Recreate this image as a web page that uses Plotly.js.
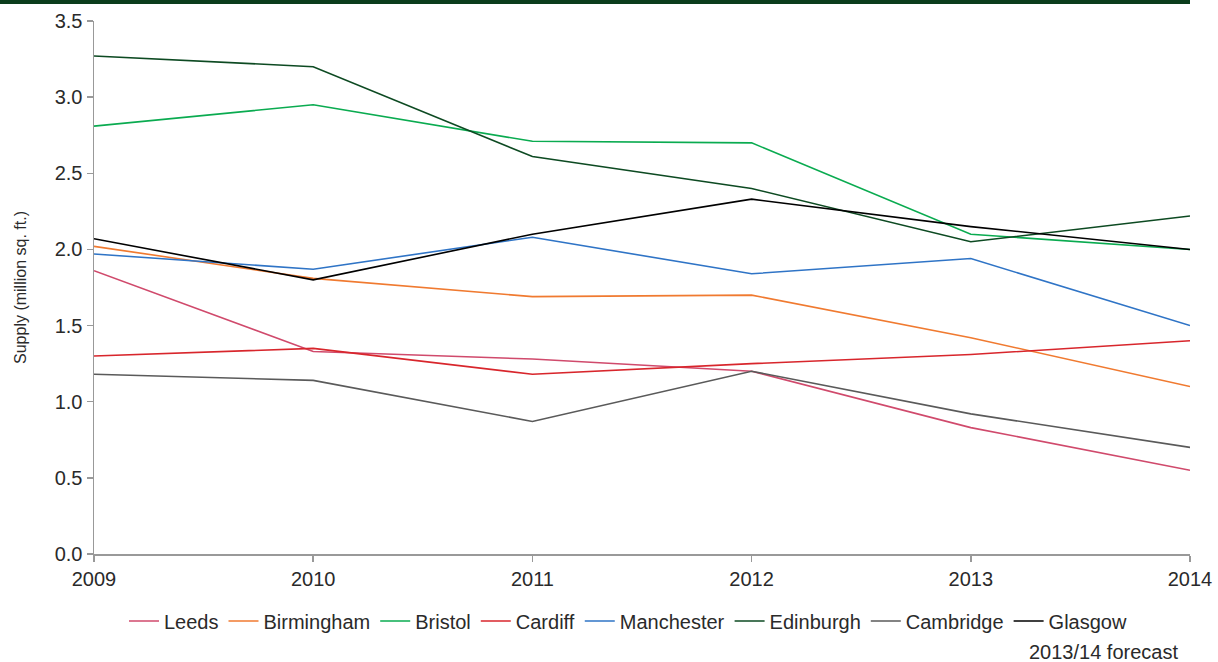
<!DOCTYPE html>
<html>
<head>
<meta charset="utf-8">
<script src="https://cdn.plot.ly/plotly-3.0.1.min.js"></script>
<style>
html,body{margin:0;padding:0;background:#fff;}
#chart{width:1218px;height:662px;}
</style>
</head>
<body>
<div id="chart"></div>
<script>
const years = [2009, 2010, 2011, 2012, 2013, 2014];
const leeds      = [1.86, 1.33, 1.28, 1.20, 0.83, 0.55];
const birmingham = [2.02, 1.81, 1.69, 1.70, 1.42, 1.10];
const bristol    = [2.81, 2.95, 2.71, 2.70, 2.10, 2.00];
const cardiff    = [1.30, 1.35, 1.18, 1.25, 1.31, 1.40];
const manchester = [1.97, 1.87, 2.08, 1.84, 1.94, 1.50];
const edinburgh  = [3.27, 3.20, 2.61, 2.40, 2.05, 2.22];
const cambridge  = [1.18, 1.14, 0.87, 1.20, 0.92, 0.70];
const glasgow    = [2.07, 1.80, 2.10, 2.33, 2.15, 2.00];
const seriesNames = ["Leeds","Birmingham","Bristol","Cardiff","Manchester","Edinburgh","Cambridge","Glasgow"];
const seriesValues = [leeds, birmingham, bristol, cardiff, manchester, edinburgh, cambridge, glasgow];
const colors = ["#d04a6c","#f07a30","#0aab50","#d8262c","#2f74c6","#0d4a22","#5a5a5a","#000000"];
const yTicks = [0,0.5,1,1.5,2,2.5,3,3.5];
const yTickText = ["0.0","0.5","1.0","1.5","2.0","2.5","3.0","3.5"];

const traces = seriesNames.map((n,i)=>({
  x: years, y: seriesValues[i], name: n, type:'scatter', mode:'lines',
  line:{color:colors[i], width:1.6}
}));

const font = {family:'"Liberation Sans", Arial, sans-serif', color:'#2a2a2a'};
const layout = {
  width:1218, height:662,
  margin:{l:94, r:28, t:21, b:108, autoexpand:false},
  paper_bgcolor:'#fff', plot_bgcolor:'#fff',
  font:Object.assign({size:19}, font),
  showlegend:true,
  legend:{orientation:'h', x:(628)/1218, xref:'container', xanchor:'center',
    y:1-621/662, yref:'container', yanchor:'middle',
    font:Object.assign({size:20}, font), itemwidth:30, tracegroupgap:0,
    bgcolor:'rgba(0,0,0,0)'},
  xaxis:{range:[2009,2014], tickvals:years, ticktext:years.map(String),
    showgrid:false, zeroline:false, showline:true, linecolor:'#999', linewidth:1.5,
    ticks:'outside', ticklen:6, tickcolor:'#999', tickwidth:1.5,
    tickfont:Object.assign({size:20}, font), fixedrange:true},
  yaxis:{range:[0,3.5], tickvals:yTicks, ticktext:yTickText,
    showgrid:false, zeroline:false, showline:true, linecolor:'#999', linewidth:1.5,
    ticks:'outside', ticklen:6, tickcolor:'#999', tickwidth:1.5,
    tickfont:Object.assign({size:20}, font),
    title:{text:'Supply (million sq. ft.)', font:Object.assign({size:16}, font), standoff:24}},
  shapes:[{type:'rect', xref:'paper', yref:'paper', x0:-94/1096, x1:1, y0:(533+21-4)/533, y1:(533+21)/533,
    fillcolor:'#0b3d1c', line:{width:0}}],
  annotations:[{text:'2013/14 forecast', xref:'paper', yref:'paper', x:(1180-94)/1096, xanchor:'right',
    y:-(652-554)/533, yanchor:'middle', showarrow:false, font:Object.assign({size:20}, font)}]
};
Plotly.newPlot('chart', traces, layout, {displayModeBar:false, staticPlot:true});
</script>
</body>
</html>
